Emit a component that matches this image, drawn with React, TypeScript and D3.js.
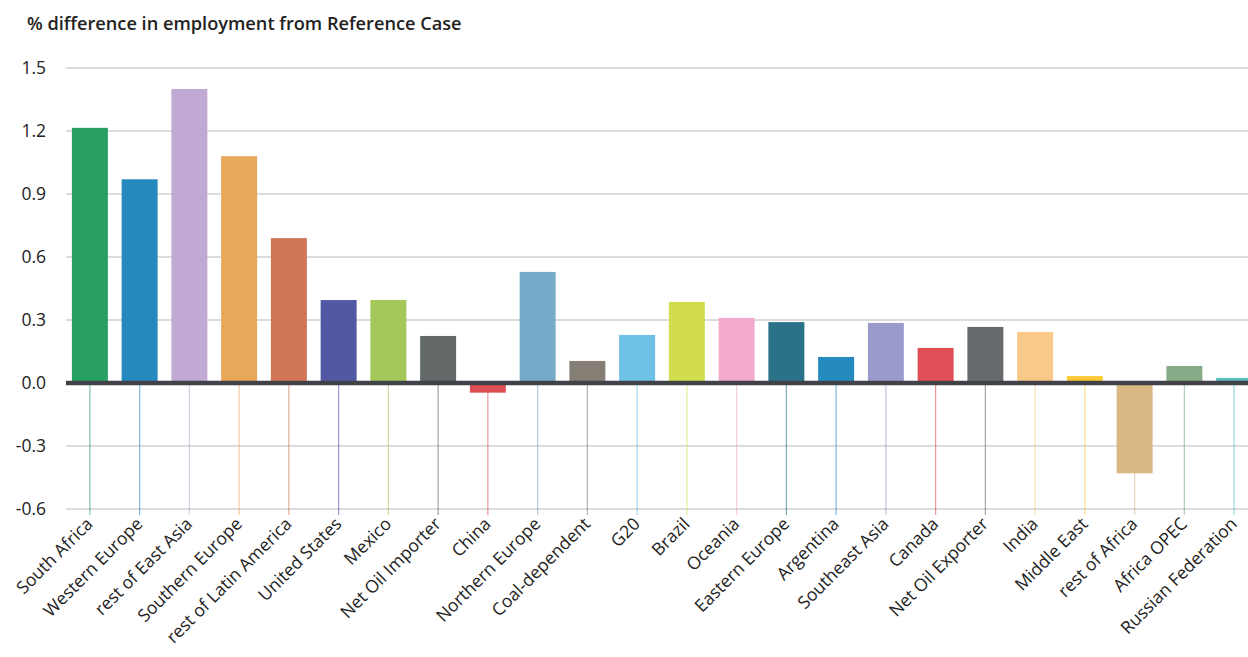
import React from "react";
import * as d3 from "d3";

const categories = ["South Africa","Western Europe","rest of East Asia","Southern Europe","rest of Latin America","United States","Mexico","Net Oil Importer","China","Northern Europe","Coal-dependent","G20","Brazil","Oceania","Eastern Europe","Argentina","Southeast Asia","Canada","Net Oil Exporter","India","Middle East","rest of Africa","Africa OPEC","Russian Federation"];
const values = [1.215,0.97,1.40,1.08,0.69,0.395,0.395,0.224,-0.046,0.529,0.105,0.229,0.386,0.31,0.29,0.124,0.286,0.167,0.267,0.243,0.033,-0.43,0.081,0.024];
const colors = ["#27a062","#2689bd","#c0a9d3","#e9a75a","#d07655","#5258a3","#a4c75a","#636869","#e04f55","#75abc8","#857e74","#6fc1e6","#d2dc4f","#f3aacb","#2a7288","#258bbe","#9b9bcb","#e04f55","#666a6c","#f9c98a","#fccb33","#d9b884","#85ab87","#5abebc"];
const yTicks = [-0.6,-0.3,0,0.3,0.6,0.9,1.2,1.5];
const title = "% difference in employment from Reference Case";

export default function App() {
  const W = 1248, H = 657;
  const x = d3.scaleBand<string>().domain(categories).range([65, 1259]).paddingInner(0.277).paddingOuter(0.1385);
  const y = d3.scaleLinear().domain([-0.6, 1.5]).range([509, 68]);
  const font = "'Open Sans', sans-serif";
  const fmt = (t: number) => d3.format(".1f")(t).replace("\u2212", "-");
  return (
    <svg width={W} height={H} style={{ position: "absolute", left: 0, top: 0, overflow: "hidden", background: "#fff" }}>
      <text x={27} y={30} fontFamily={font} fontSize={18.2} fontWeight={600} fill="#222">{title}</text>
      {yTicks.map(t => (
        <g key={t}>
          <line x1={66} x2={W} y1={y(t)} y2={y(t)} stroke="#dcdcdc" strokeWidth={2} />
          <text x={46} y={y(t)} dy="0.35em" textAnchor="end" fontFamily={font} fontSize={17.5} fill="#222">{fmt(t)}</text>
        </g>
      ))}
      {categories.map((c, i) => {
        const cx = (x(c) as number) + x.bandwidth() / 2;
        return <line key={"v" + c} x1={cx} x2={cx} y1={y(0)} y2={515} stroke={colors[i]} strokeOpacity={0.6} strokeWidth={1.2} />;
      })}
      {categories.map((c, i) => {
        const v = values[i];
        return <rect key={"b" + c} x={x(c)} width={x.bandwidth()} y={y(Math.max(0, v))} height={Math.abs(y(v) - y(0))} fill={colors[i]} />;
      })}
      <line x1={66} x2={W} y1={y(0)} y2={y(0)} stroke="#414247" strokeWidth={4.5} />
      {categories.map((c) => {
        const cx = (x(c) as number) + x.bandwidth() / 2;
        return (
          <text key={"l" + c} transform={`translate(${cx + 4},${525}) rotate(-45)`} textAnchor="end" fontFamily={font} fontSize={17.5} fill="#222">{c}</text>
        );
      })}
    </svg>
  );
}
